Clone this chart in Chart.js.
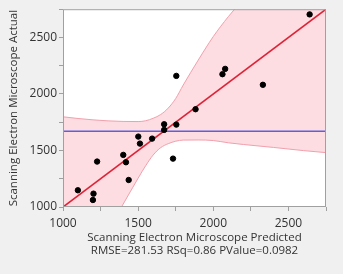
<!DOCTYPE html>
<html>
<head>
    <meta charset="utf-8">
    <title>Leverage plot</title>
    <script src="https://cdn.jsdelivr.net/npm/chart.js"></script>
    <style>
        body { margin: 0; background: #f0f0f0; }
        #wrap { width: 343px; height: 274px; }
    </style>
</head>
<body>
<div id="wrap"><canvas id="myChart"></canvas></div>
<script>
// points
var predicted = [1099, 1203, 1199, 1227, 1401, 1419, 1437, 1501, 1512, 1593,
                 1673, 1673, 1754, 1732, 1754, 1882, 2061, 2079, 2330, 2641];
var actual    = [1148, 1118, 1062, 1402, 1461, 1396, 1239, 1623, 1561, 1605,
                 1732, 1682, 1729, 1428, 2160, 1865, 2175, 2222, 2081, 2704];

// fit line and mean line
var fitX = [1000, 2750];
var fitY = [1000, 2750];
var meanX = [1000, 2750];
var meanY = [1670, 1670];

// confidence curves
var bandX     = [1000, 1100, 1200, 1300, 1400, 1500, 1550, 1600, 1650, 1700, 1750, 1800,
                 1900, 2000, 2100, 2200, 2400, 2600, 2750];
var bandUpper = [1798, 1783, 1771, 1762, 1757, 1756, 1763, 1785, 1818, 1875, 1960, 2079,
                 2300, 2508, 2684, 2840, 3140, 3440, 3660];
var bandLower = [320, 460, 620, 800, 1025, 1255, 1365, 1460, 1525, 1560, 1582, 1592,
                 1593, 1588, 1568, 1553, 1527, 1499, 1481];

var xTitle = ['Scanning Electron Microscope Predicted', 'RMSE=281.53 RSq=0.86 PValue=0.0982'];
var yTitle = 'Scanning Electron Microscope Actual';

function pts(xs, ys) {
    var out = [];
    for (var i = 0; i < xs.length; i++) out.push({x: xs[i], y: ys[i]});
    return out;
}

var font = "'Open Sans', 'Noto Sans', sans-serif";
Chart.defaults.font.family = font;
Chart.defaults.color = '#333';

var frame = {
    id: 'frame',
    beforeDatasetsDraw: function(chart) {
        var a = chart.chartArea, ctx = chart.ctx;
        ctx.save();
        ctx.fillStyle = '#ffffff';
        ctx.fillRect(a.left, a.top, a.right - a.left, a.bottom - a.top);
        ctx.restore();
    },
    afterDatasetsDraw: function(chart) {
        var a = chart.chartArea, ctx = chart.ctx;
        ctx.save();
        ctx.strokeStyle = '#a0a0a0';
        ctx.lineWidth = 1;
        ctx.strokeRect(a.left + 0.5, a.top + 0.5, a.right - a.left - 1, a.bottom - a.top - 1);
        ctx.restore();
    }
};

var myChart = new Chart(document.getElementById('myChart'), {
    type: 'scatter',
    data: {
        datasets: [
            {
                type: 'line',
                data: pts(bandX, bandUpper),
                borderColor: 'rgb(240, 160, 172)',
                borderWidth: 1,
                backgroundColor: 'rgb(253, 220, 226)',
                pointRadius: 0,
                fill: '+1',
                cubicInterpolationMode: 'monotone',
                order: 10
            },
            {
                type: 'line',
                data: pts(bandX, bandLower),
                borderColor: 'rgb(240, 160, 172)',
                borderWidth: 1,
                pointRadius: 0,
                fill: false,
                cubicInterpolationMode: 'monotone',
                order: 9
            },
            {
                type: 'line',
                data: pts(meanX, meanY),
                borderColor: 'rgb(95, 95, 220)',
                borderWidth: 1.5,
                pointRadius: 0,
                fill: false,
                order: 5
            },
            {
                type: 'line',
                data: pts(fitX, fitY),
                borderColor: 'rgb(222, 35, 55)',
                borderWidth: 1.6,
                pointRadius: 0,
                fill: false,
                order: 4
            },
            {
                data: pts(predicted, actual),
                backgroundColor: '#000',
                borderColor: '#000',
                pointRadius: 2.7,
                order: 0
            }
        ]
    },
    options: {
        responsive: true,
        maintainAspectRatio: false,
        animation: false,
        layout: { padding: { top: 9, right: 17, left: 0, bottom: 0 } },
        plugins: { legend: { display: false }, tooltip: { enabled: false } },
        scales: {
            x: {
                min: 1000, max: 2750,
                afterFit: function(s) { s.height = 67; },
                ticks: {
                    stepSize: 250, autoSkip: false, maxRotation: 0,
                    padding: 5,
                    font: { size: 12 },
                    callback: function(v) { return v % 500 === 0 ? v : ''; }
                },
                grid: { drawOnChartArea: false, tickLength: 4, color: '#a0a0a0' },
                border: { display: false },
                title: {
                    display: true, text: xTitle,
                    font: { size: 11.5 }, lineHeight: 1.35,
                    padding: { top: 2, bottom: 16 }
                }
            },
            y: {
                min: 1000, max: 2750,
                afterFit: function(s) { s.width = 63; },
                ticks: {
                    stepSize: 250, autoSkip: false,
                    padding: 2,
                    font: { size: 12 },
                    callback: function(v) { return v % 500 === 0 ? v : ''; }
                },
                grid: { drawOnChartArea: false, tickLength: 4, color: '#a0a0a0' },
                border: { display: false },
                title: {
                    display: true, text: yTitle,
                    font: { size: 11.5 }, padding: { top: 7, bottom: 0 }
                }
            }
        }
    },
    plugins: [frame]
});
</script>
</body>
</html>
